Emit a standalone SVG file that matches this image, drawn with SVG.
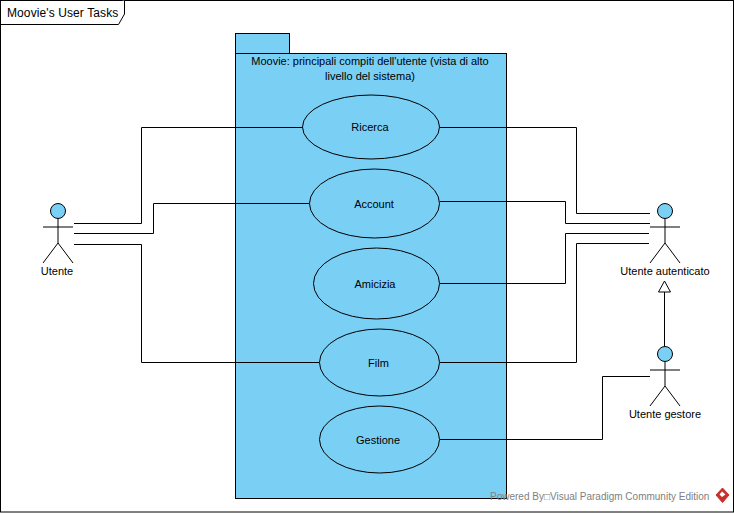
<svg xmlns="http://www.w3.org/2000/svg" width="734" height="513" viewBox="0 0 734 513">
<style>
text{font-family:"Liberation Sans",Arial,sans-serif;font-size:11px;fill:#000;text-anchor:middle}
.s{fill:none;stroke:#000;stroke-width:1}
.f{fill:#7acff5;stroke:#000;stroke-width:1}
.c{fill:none;stroke:#000;stroke-width:1}
</style>
<defs>
<g id="actor">
<circle class="f" cx="0" cy="0" r="7.5"/>
<path class="s" d="M0 7.5V32M-15 16H15M0 32L-15 52M0 32L15 52"/>
</g>
</defs>
<rect width="734" height="513" fill="#fff"/>
<g id="frame">
<rect class="s" x="0.5" y="0.5" width="733" height="511.5"/>
<path d="M0.5 24.5H118.5L124.5 14V0.5" fill="#fff" stroke="#000"/>
<text x="7" y="17" style="font-size:12px;text-anchor:start;letter-spacing:.1px">Moovie's User Tasks</text>
</g>
<g id="package">
<rect class="f" x="235.5" y="33.5" width="54" height="20"/>
<rect class="f" x="235.5" y="53.5" width="271" height="445"/>
<text x="370" y="65">Moovie: principali compiti dell'utente (vista di alto</text>
<text x="370" y="80">livello del sistema)</text>
</g>
<g id="connectors">
<path class="c" d="M74 223.5H141.500V127.500H302"/>
<path class="c" d="M74 233.500H153.500V203.500H309"/>
<path class="c" d="M74 244.500H141.500V362.500H319"/>
<path class="c" d="M440 127.500H576.500V213.500H650"/>
<path class="c" d="M440 201.500H565.500V223.500H650"/>
<path class="c" d="M440 283.500H565.500V233.500H649"/>
<path class="c" d="M440 362.500H576.500V243.500H649"/>
<path class="c" d="M440 439.500H602.500V376.500H650"/>
<path class="c" d="M664.500 346V292"/>
<path d="M664.500 281L658.500 292H670.500Z" fill="#fff" stroke="#000"/>
</g>
<g id="uc-ricerca"><ellipse class="f" cx="371" cy="127" rx="68.500" ry="32"/><text x="370" y="131">Ricerca</text></g>
<g id="uc-account"><ellipse class="f" cx="374.500" cy="203.500" rx="65" ry="34.500"/><text x="374" y="208">Account</text></g>
<g id="uc-amicizia"><ellipse class="f" cx="376.500" cy="283.500" rx="63" ry="35.500"/><text x="375" y="288">Amicizia</text></g>
<g id="uc-film"><ellipse class="f" cx="379.500" cy="362.500" rx="60" ry="33.500"/><text x="378.500" y="367">Film</text></g>
<g id="uc-gestione"><ellipse class="f" cx="379.500" cy="439.500" rx="60" ry="33.500"/><text x="378" y="444">Gestione</text></g>
<g id="actor-utente"><use href="#actor" x="58" y="211"/><text x="57" y="275">Utente</text></g>
<g id="actor-autenticato"><use href="#actor" x="665" y="211"/><text x="665" y="275">Utente autenticato</text></g>
<g id="actor-gestore"><use href="#actor" x="665" y="354"/><text x="665" y="418">Utente gestore</text></g>
<g id="watermark">
<text x="490" y="500" style="font-size:10px;text-anchor:start;fill:#808080">Powered By□Visual Paradigm Community Edition</text>
<path d="M722.500 488L729 495L722.500 502.500L716 495Z" fill="#c8312b" stroke="#c8312b" stroke-linejoin="round"/>
<path d="M722 491.500L725.500 494.500L722 497L719.500 494.500Z" fill="#fff"/>
</g>
</svg>
